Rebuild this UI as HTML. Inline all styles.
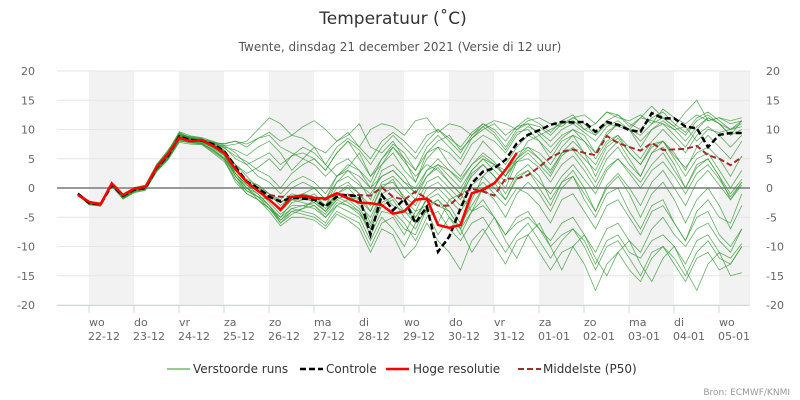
<!DOCTYPE html>
<html><head><meta charset="utf-8"><style>
body{margin:0;background:#fff;}
svg{display:block;font-family:"DejaVu Sans","Liberation Sans",sans-serif;}
</style></head><body>
<svg id="chart" width="800" height="400" viewBox="0 0 800 400">
<rect x="0" y="0" width="800" height="400" fill="#fff"/>
<text x="393" y="24" text-anchor="middle" font-size="17" fill="#333">Temperatuur (˚C)</text>
<text x="400" y="51" text-anchor="middle" font-size="12" fill="#555">Twente, dinsdag 21 december 2021 (Versie di 12 uur)</text>
<g id="bands"></g><g id="grid"></g><g id="ylabels"></g><g id="xaxis"></g>
<g id="members"></g><g id="main"></g>
<g>
<g><line x1="167" y1="369" x2="190" y2="369" stroke="#55aa55" stroke-width="1.2"/><text x="193" y="373" font-size="12" fill="#333">Verstoorde runs</text></g>
<g><line x1="300" y1="369" x2="323" y2="369" stroke="#000" stroke-width="2.5" stroke-dasharray="6,3"/><text x="326" y="373" font-size="12" fill="#333">Controle</text></g>
<g><line x1="386" y1="369" x2="409" y2="369" stroke="#f00" stroke-width="2.5"/><text x="413" y="373" font-size="12" fill="#333">Hoge resolutie</text></g>
<g><line x1="518" y1="369" x2="541" y2="369" stroke="#a52a2a" stroke-width="2" stroke-dasharray="6,3"/><text x="543" y="373" font-size="12" fill="#333">Middelste (P50)</text></g>
</g>
<text x="790" y="395" text-anchor="end" font-size="9" fill="#999">Bron: ECMWF/KNMI</text>
</svg>
<script>
const dayNames=["wo","do","vr","za","zo","ma","di","wo","do","vr","za","zo","ma","di","wo"];
const dayDates=["22-12","23-12","24-12","25-12","26-12","27-12","28-12","29-12","30-12","31-12","01-01","02-01","03-01","04-01","05-01"];
const yTicks=[20,15,10,5,0,-5,-10,-15,-20];
const controle=[-1,-2.6,-2.8,0.5,-1.3,-0.3,0,3.5,5.5,8.8,8.2,8.1,7.5,6.3,3.6,1.1,0,-1.5,-2.3,-1.7,-1.8,-2.0,-3.2,-1.5,-1.2,-1.5,-8.0,-1.2,-3.8,-1.9,-6.0,-3.2,-10.9,-8.3,-3.5,0.8,2.8,3.4,4.8,7.6,9.1,9.9,10.8,11.3,11.2,11.3,9.6,11.3,10.8,9.9,9.6,12.8,11.9,11.9,10.5,10.2,7.0,9.1,9.4,9.4];
const hogeResolutie=[-1.2,-2.4,-2.8,0.8,-1.2,-0.1,0.2,3.6,5.8,8.6,8.0,8.2,7.2,6.0,3.2,1.0,-0.5,-2,-3.7,-1.5,-1.3,-1.7,-1.8,-0.9,-1.8,-2.5,-2.6,-2.9,-4.4,-4.0,-2.0,-1.8,-6.3,-6.8,-6.3,-0.9,-0.3,0.8,3.1,6.0];
const p50=[-1,-2.6,-2.8,0.5,-1.3,-0.3,0,3.5,5.5,8.7,8.1,8.1,7.4,6.2,3.5,1.0,-0.3,-1.2,-1.5,-1.5,-1.6,-1.8,-2.0,-1.0,-1.2,-1.2,-1.3,0.1,-1.5,-2.0,-0.6,-1.8,-3.0,-3.0,-1.2,-0.1,-0.6,-1.3,1.6,1.6,2.2,3.6,5.2,6.2,6.6,6.0,5.6,8.9,7.7,7.0,6.4,7.7,6.5,6.6,6.7,7.2,5.6,5.0,3.9,5.3];
const members=[
[-1.0,-2.5,-2.6,0.7,-1.5,-0.2,0.3,3.8,6.0,9.5,8.5,8.3,7.8,7.5,8.0,7.0,8.5,9.5,8.0,9.0,8.5,7.0,6.0,8.0,9.5,7.0,10.0,11.0,10.5,9.0,11.5,12.0,9.5,11.0,10.5,9.0,10.5,11.5,11.0,10.0,11.5,12.0,11.0,10.5,12.0,12.5,11.0,13.0,12.0,11.5,12.5,11.0,13.5,12.0,11.0,12.5,11.5,12.0,11.5,12.0],
[-1.2,-2.8,-3.0,0.4,-1.8,-0.6,-0.2,3.0,5.0,8.0,7.8,7.6,6.5,5.0,2.5,0.5,-1.0,-3.0,-5.0,-3.5,-4.0,-4.5,-6.0,-3.0,-4.0,-5.0,-9.0,-5.0,-7.0,-10.0,-6.0,-4.0,-8.0,-5.0,-7.0,-11.0,-8.0,-5.0,-9.0,-12.0,-8.0,-6.0,-10.0,-14.0,-10.0,-8.0,-12.0,-15.0,-11.0,-9.0,-13.0,-16.0,-12.0,-10.0,-14.0,-17.5,-13.0,-11.0,-15.0,-14.5],
[-0.8,-2.3,-2.5,0.9,-1.2,0.0,0.5,4.0,6.5,9.0,8.8,8.5,7.0,6.0,4.0,2.0,0.0,-1.0,-2.5,-1.0,-1.5,-2.0,-3.5,-1.0,0.0,-2.0,-4.0,0.5,1.0,-1.5,-3.0,1.0,2.0,0.0,-2.0,2.5,4.0,2.0,0.0,4.5,6.0,4.0,2.0,5.5,7.0,5.0,3.0,7.0,8.5,6.0,4.0,7.5,8.0,5.5,3.5,6.0,7.0,5.0,2.0,5.5],
[-1.1,-2.6,-2.9,0.6,-1.4,-0.4,0.1,3.4,5.8,8.6,8.3,8.2,7.5,7.0,6.5,5.5,7.0,8.0,6.0,3.0,5.0,7.0,4.0,2.0,3.5,6.0,2.0,4.0,7.0,5.0,1.0,6.0,8.0,9.0,6.5,8.5,10.0,11.0,9.0,10.5,12.0,11.0,9.5,11.5,12.5,10.0,11.0,13.0,12.5,10.5,12.0,14.0,12.0,10.5,13.0,15.0,11.5,12.0,11.0,11.5],
[-1.3,-2.9,-3.1,0.3,-1.9,-0.8,-0.4,2.8,4.8,7.8,7.5,7.4,6.0,4.5,1.5,-0.5,-1.5,-3.5,-5.5,-4.0,-4.5,-5.0,-6.5,-4.0,-5.0,-6.0,-10.0,-6.0,-5.0,-8.0,-4.0,-3.0,-6.0,-2.0,-1.0,-4.0,0.0,1.0,-2.0,2.0,3.0,0.0,-3.0,1.0,2.0,-2.0,-5.0,-1.0,0.0,-4.0,-7.0,-3.0,-2.0,-6.0,-9.0,-5.0,-4.0,-8.0,-10.0,-7.0],
[-0.9,-2.4,-2.7,0.8,-1.3,-0.1,0.4,3.7,5.9,9.2,8.6,8.0,7.2,6.5,3.0,1.0,-0.5,-2.0,-3.5,-2.0,-2.5,-3.0,-4.5,-2.0,-1.0,-3.0,-5.0,-1.0,0.0,-2.0,-4.0,0.0,1.0,-1.0,-3.0,0.5,2.0,0.0,-2.0,1.5,3.0,1.0,-1.0,2.0,4.0,1.5,-1.0,3.0,5.0,3.0,1.0,4.0,6.0,3.0,0.0,3.5,5.0,2.0,-1.0,1.5],
[-1.0,-2.7,-2.8,0.5,-1.6,-0.3,0.2,3.3,5.6,9.0,8.4,8.1,7.6,7.2,7.5,8.0,10.0,12.0,11.0,9.0,10.5,11.5,10.0,8.0,9.0,11.0,7.0,6.0,8.0,5.0,3.0,6.0,7.0,4.0,2.0,5.0,8.0,6.0,4.0,7.0,9.0,8.0,6.0,8.5,10.0,9.0,6.0,9.0,11.0,10.0,7.0,10.0,11.0,9.0,7.0,10.0,12.0,11.0,9.0,10.0],
[-1.2,-2.7,-3.0,0.5,-1.7,-0.5,0.0,3.2,5.3,8.4,8.0,7.9,6.8,5.5,2.0,0.0,-1.5,-3.0,-6.0,-4.0,-3.5,-3.0,-5.0,-2.5,-3.0,-4.5,-7.0,-3.0,-4.0,-6.0,-9.0,-5.0,-4.0,-7.0,-9.0,-6.0,-5.0,-8.0,-11.0,-8.0,-6.0,-9.0,-12.0,-9.0,-7.0,-10.0,-14.0,-10.0,-9.0,-12.0,-15.0,-11.0,-10.0,-13.0,-16.0,-12.0,-11.0,-14.0,-13.0,-10.0],
[-1.0,-2.6,-2.8,0.6,-1.4,-0.2,0.1,3.6,5.7,8.9,8.2,8.1,7.4,6.3,3.5,1.0,0.0,-1.5,-2.5,-1.5,-2.0,-2.0,-3.0,-1.0,-1.5,-2.0,-6.0,-1.0,-3.0,-4.0,-5.0,-2.0,-3.0,-4.0,-7.0,-2.0,2.0,4.0,3.0,5.0,8.0,9.0,10.0,11.0,11.5,10.0,9.0,11.0,10.5,10.0,12.0,11.5,11.0,10.0,10.5,8.0,10.0,9.5,10.0,10.5],
[-1.1,-2.5,-2.7,0.7,-1.3,-0.2,0.3,3.9,6.2,9.4,8.7,8.4,7.9,7.0,5.0,4.0,5.0,6.0,4.0,5.5,6.0,5.0,3.0,6.0,8.0,6.5,4.0,7.0,9.0,7.0,5.0,8.0,10.0,8.0,6.0,9.0,11.0,9.5,7.0,10.0,11.0,9.0,7.0,9.0,10.0,8.0,5.0,8.0,9.0,6.0,4.0,7.0,8.0,5.0,2.0,5.0,6.0,3.0,0.0,3.0],
[-1.0,-2.5,-2.9,0.4,-1.5,-0.4,-0.1,3.1,5.2,8.3,8.0,7.8,7.0,5.8,2.5,0.5,-0.5,-2.5,-4.5,-3.0,-3.0,-3.5,-5.0,-3.0,-2.0,-3.5,-6.5,-2.5,-1.5,-4.0,-6.0,-1.5,0.0,-2.0,-4.0,-1.0,1.0,-1.0,-3.0,0.0,-1.0,-3.0,-6.0,-2.0,-1.0,-4.0,-7.0,-3.0,-2.0,-5.0,-8.0,-4.0,-3.0,-6.0,-9.0,-4.0,-2.0,-5.0,-6.0,-1.0],
[-0.9,-2.4,-2.6,0.9,-1.1,0.1,0.5,4.1,6.3,9.6,8.9,8.6,8.0,7.3,6.0,4.0,2.0,1.0,-1.0,1.0,2.0,1.0,-1.0,2.0,3.0,1.0,-2.0,3.0,4.0,2.0,-1.0,3.0,5.0,3.0,1.0,4.0,6.0,4.5,2.0,6.0,7.0,5.0,3.0,6.0,6.5,4.0,1.0,5.0,7.0,4.0,2.0,6.0,8.0,6.0,3.0,7.0,9.0,7.0,5.0,8.0],
[-1.2,-2.8,-3.0,0.3,-1.8,-0.7,-0.3,2.9,4.9,8.1,7.7,7.5,6.2,4.8,1.0,-1.0,-2.0,-4.0,-6.5,-5.0,-5.0,-5.5,-7.0,-4.5,-5.5,-7.0,-11.0,-7.0,-8.0,-12.0,-10.0,-6.0,-9.0,-11.0,-14.0,-9.0,-7.0,-10.0,-13.0,-9.0,-8.0,-11.0,-14.0,-11.0,-10.0,-13.0,-17.5,-13.0,-11.0,-14.0,-16.0,-12.0,-10.0,-12.0,-15.0,-11.0,-9.0,-12.0,-13.0,-10.0],
[-1.0,-2.6,-2.7,0.6,-1.5,-0.3,0.2,3.5,5.6,8.7,8.3,8.2,7.6,6.8,5.5,4.5,3.0,2.0,0.0,2.5,4.0,5.0,3.0,6.0,8.0,5.0,2.0,5.0,7.5,6.0,3.0,7.0,9.0,7.0,5.0,8.5,10.5,9.0,6.5,9.5,10.0,8.0,5.0,8.0,9.0,6.0,2.0,6.0,8.0,5.0,2.0,6.0,7.0,4.0,0.0,4.0,5.0,2.0,-2.0,0.5],
[-1.1,-2.7,-2.9,0.5,-1.6,-0.4,0.0,3.3,5.4,8.5,8.1,8.0,7.1,5.9,3.0,1.5,0.5,-1.0,-3.0,-1.5,-1.0,-1.5,-3.0,0.0,1.0,-1.0,-3.0,1.0,2.0,0.0,-2.0,2.0,3.5,1.0,-1.0,3.0,5.0,3.0,1.0,5.0,6.5,5.0,2.5,6.0,8.0,6.0,4.0,7.5,9.0,7.0,5.0,8.0,10.0,8.0,6.0,9.0,10.5,9.0,7.0,9.0],
[-1.2,-2.6,-3.1,0.4,-1.7,-0.5,-0.1,3.2,5.2,8.3,7.9,7.7,6.6,5.2,2.0,0.0,-1.0,-3.0,-5.5,-3.5,-3.0,-2.5,-4.0,-2.0,-3.0,-4.0,-8.0,-4.0,-4.5,-7.0,-8.0,-3.5,-2.0,-5.0,-8.0,-4.0,-2.0,-5.0,-8.0,-5.0,-4.0,-7.0,-9.0,-6.0,-5.0,-8.0,-11.0,-7.0,-6.0,-9.0,-11.0,-7.0,-5.0,-8.0,-10.0,-7.0,-6.0,-9.0,-11.0,-7.0],
[-1.0,-2.5,-2.8,0.6,-1.4,-0.3,0.2,3.6,5.8,9.0,8.4,8.2,7.3,6.0,2.5,0.0,-2.0,-3.5,-5.0,-2.5,-2.0,-1.0,-3.0,1.0,3.0,2.0,0.0,4.0,6.0,3.0,1.0,5.0,7.0,6.0,4.0,7.5,9.0,8.0,6.0,9.0,10.5,9.5,8.0,10.0,11.0,9.5,8.0,10.5,11.5,10.0,9.0,11.0,12.0,10.5,9.0,11.5,12.5,11.0,10.0,11.0],
[-1.1,-2.7,-2.9,0.5,-1.5,-0.4,0.0,3.3,5.4,8.6,8.1,7.9,7.0,5.6,2.0,-0.5,-1.5,-2.0,-4.0,-2.0,-1.0,0.0,-2.0,2.0,4.0,3.0,1.0,5.0,7.0,4.5,2.0,4.0,3.0,1.0,-1.0,2.0,4.0,2.0,-1.0,2.5,4.0,2.0,-2.0,1.0,3.0,0.0,-4.0,0.0,2.0,-1.0,-5.0,-1.0,1.0,-2.0,-6.0,-2.0,0.0,-3.0,-7.0,-3.0],
[-0.9,-2.4,-2.6,0.8,-1.2,0.0,0.4,3.9,6.1,9.3,8.6,8.3,7.7,7.6,8.0,7.5,8.5,9.0,7.0,6.0,5.0,4.0,2.0,4.0,5.0,3.0,0.0,2.0,3.0,1.0,-1.0,2.0,4.0,2.0,0.0,3.0,5.0,4.0,2.0,5.0,7.0,6.0,4.0,7.0,9.0,8.0,6.0,9.5,11.0,10.0,8.0,10.0,11.5,10.0,8.0,10.5,12.0,11.0,9.0,11.5],
[-1.2,-2.7,-3.0,0.4,-1.7,-0.5,-0.1,3.1,5.1,8.2,7.8,7.6,6.4,5.0,1.5,-1.0,-2.0,-3.5,-6.0,-4.5,-3.5,-2.0,-4.0,-1.0,0.5,-1.0,-4.0,0.0,1.5,-2.0,-5.0,-2.0,-1.0,-3.0,-6.0,-3.0,0.0,-2.0,-5.0,-1.0,1.0,-1.0,-4.0,0.0,2.0,-1.0,-4.0,0.5,2.5,0.0,-3.0,1.0,3.0,0.0,-3.0,1.0,3.0,0.5,-2.0,1.0],
[-1.0,-2.6,-2.8,0.6,-1.4,-0.3,0.1,3.5,5.6,8.9,8.3,8.1,7.5,6.4,4.0,2.5,3.5,5.0,3.0,5.5,7.0,6.0,4.0,7.0,8.5,7.0,5.0,8.0,9.5,8.0,6.0,9.0,10.0,8.5,7.0,9.5,11.0,10.0,8.0,10.5,11.0,10.5,9.0,11.0,12.0,11.0,9.0,11.5,12.5,11.0,10.0,12.0,13.0,11.0,9.5,12.0,13.0,11.5,10.0,11.5],
[-1.1,-2.6,-2.9,0.5,-1.6,-0.4,0.0,3.4,5.5,8.6,8.2,8.0,7.1,5.7,2.5,0.5,-0.5,-2.0,-4.0,-2.0,-1.5,-2.5,-4.0,-1.5,-2.5,-4.0,-7.0,-3.0,-2.0,-5.0,-7.0,-3.0,-2.0,-4.0,-7.0,-4.0,-3.0,-5.0,-8.0,-6.0,-5.0,-7.0,-10.0,-8.0,-7.0,-9.0,-13.0,-9.0,-8.0,-11.0,-12.0,-9.0,-8.0,-10.0,-13.0,-9.0,-8.0,-11.0,-12.0,-9.5],
[-0.9,-2.5,-2.7,0.7,-1.3,-0.1,0.3,3.7,5.9,9.1,8.5,8.2,7.4,6.2,3.0,1.0,0.5,-1.0,-2.0,0.0,1.0,0.0,-2.0,1.0,2.0,0.5,-1.0,2.0,3.0,1.0,0.0,3.0,4.0,3.0,1.5,4.0,5.5,4.0,2.0,4.5,5.0,3.5,1.0,4.0,5.5,3.0,0.0,3.5,5.0,2.5,0.0,3.0,4.5,2.0,-1.0,2.5,4.0,1.5,-1.5,1.0]
];
const NS="http://www.w3.org/2000/svg";
const X0=78,STEP=11.25,PL=57,PR=750,PT=71,PB=305;
function xAt(i){return X0+i*STEP;}
function yAt(v){return PT+(20-v)*(PB-PT)/40;}
function mk(tag,attrs,parent){const e=document.createElementNS(NS,tag);for(const k in attrs)e.setAttribute(k,attrs[k]);parent.appendChild(e);return e;}
const bands=document.getElementById('bands');
for(let k=0;k<dayNames.length;k+=2){
 const x=89+k*45;
 const r=mk('rect',{x:x,y:PT,width:Math.min(45,PR-x),height:PB-PT,fill:'#f2f2f2'},bands);
 
 
}
const grid=document.getElementById('grid'),yl=document.getElementById('ylabels');
yTicks.forEach(v=>{
 const y=yAt(v);
 const l=mk('line',{x1:PL,x2:PR,y1:y,y2:y,stroke:v===0?'#999':'#e6e6e6','stroke-width':v===0?2:1},grid);
 
 
 const a=mk('text',{x:35,y:y+4,'text-anchor':'end','font-size':11,fill:'#666'},yl);a.textContent=v;
 
 
 const b=mk('text',{x:766,y:y+4,'text-anchor':'start','font-size':11,fill:'#666'},yl);b.textContent=v;
 
 
});
const xa=document.getElementById('xaxis');
const al=mk('line',{x1:PL,x2:PR,y1:PB+0.5,y2:PB+0.5,stroke:'#ccd6eb'},xa);


dayNames.forEach((d,k)=>{
 const x=89+k*45;
 const t=mk('line',{x1:x,x2:x,y1:PB,y2:PB+8,stroke:'#ccd6eb'},xa);
 
 
 const a=mk('text',{x:x,y:326,'font-size':11,fill:'#666'},xa);a.textContent=d;
 
 
 const b=mk('text',{x:x-1,y:340,'font-size':11,fill:'#666'},xa);b.textContent=dayDates[k];
 
 
});
function pts(arr){return arr.map((v,i)=>xAt(i).toFixed(1)+','+yAt(v).toFixed(1)).join(' ');}
const mg=document.getElementById('members');
members.forEach(m=>{
 const p=mk('polyline',{points:pts(m),fill:'none',stroke:'#2e962e','stroke-width':0.8,'stroke-opacity':0.75},mg);
 
 
});
const main=document.getElementById('main');
const pp=mk('polyline',{points:pts(p50),fill:'none',stroke:'#a52a2a','stroke-width':2,'stroke-dasharray':'6,3'},main);


const cl=mk('polyline',{points:pts(controle),fill:'none',stroke:'#000','stroke-width':2.5,'stroke-dasharray':'6,3'},main);


const hr=mk('polyline',{points:pts(hogeResolutie),fill:'none',stroke:'#f00','stroke-width':2.5},main);


</script>
</body></html>
